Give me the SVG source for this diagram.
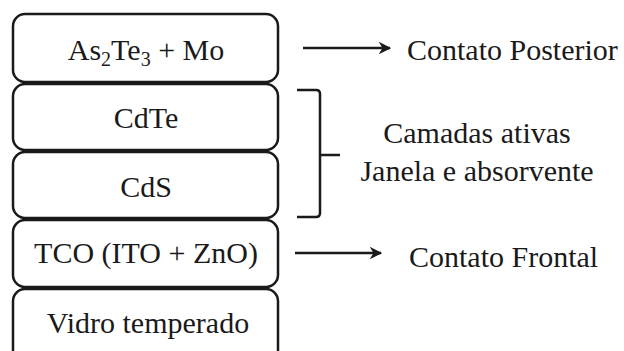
<svg xmlns="http://www.w3.org/2000/svg" width="624" height="351" viewBox="0 0 624 351">
<defs>
<style>
.box{fill:#fff;stroke:#1a1a1a;stroke-width:2.5}
.t{font-family:'Liberation Serif','Times New Roman',serif;font-size:30px;fill:#1a1a1a}
.m{text-anchor:middle}
.ln{stroke:#1a1a1a;stroke-width:2.5;fill:none}
</style>
<marker id="ah" viewBox="0 0 10 10" refX="9" refY="5" markerWidth="5" markerHeight="5" orient="auto" markerUnits="strokeWidth">
<path d="M0,0 L10,5 L0,10 L3,5 Z" fill="#1a1a1a"/>
</marker>
</defs>
<rect width="624" height="351" fill="#fff"/>
<g id="n1"><rect class="box" x="13" y="14" width="265" height="68" rx="12"/>
<text class="t m" x="146" y="60">As<tspan font-size="20" dy="6">2</tspan><tspan dy="-6">Te</tspan><tspan font-size="20" dy="6">3</tspan><tspan dy="-6"> + Mo</tspan></text></g>
<g id="n2"><rect class="box" x="13" y="84" width="265" height="66" rx="12"/>
<text class="t m" x="146" y="128">CdTe</text></g>
<g id="n3"><rect class="box" x="13" y="152" width="265" height="66" rx="12"/>
<text class="t m" x="146" y="197">CdS</text></g>
<g id="n4"><rect class="box" x="13" y="220" width="265" height="67" rx="12"/>
<text class="t m" x="146" y="263">TCO (ITO + ZnO)</text></g>
<g id="n5"><rect class="box" x="13" y="289" width="265" height="80" rx="12"/>
<text class="t m" x="148" y="333">Vidro temperado</text></g>
<g id="connectors">
<line class="ln" x1="303" y1="48" x2="390" y2="48" marker-end="url(#ah)"/>
<line class="ln" x1="295" y1="253" x2="381" y2="253" marker-end="url(#ah)"/>
<path class="ln" d="M297,90 H316 Q320,90 320,94 V213 Q320,217 316,217 H297 M320,155 H340"/>
</g>
<g id="labels">
<text class="t" x="407" y="60">Contato Posterior</text>
<text class="t m" x="477" y="143">Camadas ativas</text>
<text class="t m" x="477" y="181">Janela e absorvente</text>
<text class="t" x="409" y="267">Contato Frontal</text>
</g>
</svg>
